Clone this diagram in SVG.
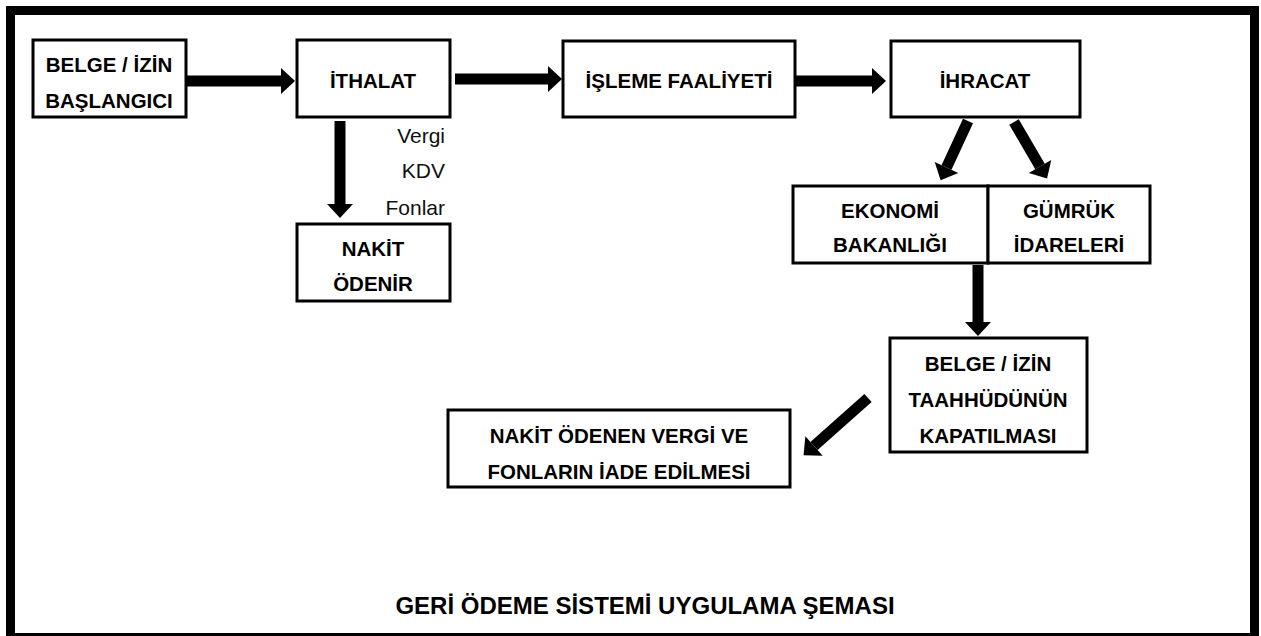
<svg xmlns="http://www.w3.org/2000/svg" width="1261" height="636" viewBox="0 0 1261 636">
<style>
.box{fill:#fff;stroke:#000;stroke-width:3}
.t{font-family:"Liberation Sans",Arial,sans-serif;font-weight:bold;font-size:20.5px;fill:#000;text-anchor:middle}
.n{font-family:"Liberation Sans",Arial,sans-serif;font-size:21px;fill:#111;text-anchor:end}
.c{stroke:#000;stroke-width:11;fill:none;marker-end:url(#ah)}
</style>
<defs>
<marker id="ah" markerUnits="userSpaceOnUse" markerWidth="16" markerHeight="28" refX="0" refY="13" orient="auto" overflow="visible">
<path d="M0,0 L14,13 L0,26 z" fill="#000"/>
</marker>
</defs>
<rect x="0" y="0" width="1261" height="636" fill="#fff"/>
<rect x="10.5" y="10.5" width="1244" height="627" fill="none" stroke="#000" stroke-width="9"/>

<g id="n-baslangic"><rect class="box" x="33" y="40" width="153" height="77"/><text class="t" x="109" y="72">BELGE / İZİN</text><text class="t" x="109" y="108">BAŞLANGICI</text></g>
<g id="n-ithalat"><rect class="box" x="297" y="40" width="153" height="77"/><text class="t" x="373" y="88">İTHALAT</text></g>
<g id="n-isleme"><rect class="box" x="563" y="41" width="232" height="76"/><text class="t" x="679" y="88">İŞLEME FAALİYETİ</text></g>
<g id="n-ihracat"><rect class="box" x="891" y="41" width="189" height="76"/><text class="t" x="985" y="88">İHRACAT</text></g>
<g id="n-vergi"><text class="n" x="445" y="143">Vergi</text><text class="n" x="445" y="178">KDV</text><text class="n" x="445" y="215">Fonlar</text></g>
<g id="n-nakit"><rect class="box" x="297" y="224" width="153" height="77"/><text class="t" x="373" y="256">NAKİT</text><text class="t" x="373" y="291">ÖDENİR</text></g>
<g id="n-ekonomi"><rect class="box" x="793" y="186" width="195" height="77"/><text class="t" x="890" y="218">EKONOMİ</text><text class="t" x="890" y="252">BAKANLIĞI</text></g>
<g id="n-gumruk"><rect class="box" x="988" y="186" width="162" height="77"/><text class="t" x="1069" y="218">GÜMRÜK</text><text class="t" x="1069" y="252">İDARELERİ</text></g>
<g id="n-kapatma"><rect class="box" x="890" y="338" width="197" height="114"/><text class="t" x="988" y="371">BELGE / İZİN</text><text class="t" x="988" y="407">TAAHHÜDÜNÜN</text><text class="t" x="988" y="443">KAPATILMASI</text></g>
<g id="n-iade"><rect class="box" x="448" y="410" width="342" height="77"/><text class="t" x="619" y="443">NAKİT ÖDENEN VERGİ VE</text><text class="t" x="619" y="479">FONLARIN İADE EDİLMESİ</text></g>
<g id="n-title"><text class="t" x="645" y="614" style="font-size:24px">GERİ ÖDEME SİSTEMİ UYGULAMA ŞEMASI</text></g>

<g id="connectors">
<line class="c" x1="187" y1="81" x2="281" y2="81"/>
<line class="c" x1="455" y1="79" x2="548" y2="79"/>
<line class="c" x1="796" y1="81" x2="872" y2="81"/>
<line class="c" x1="340" y1="121" x2="340" y2="204"/>
<line class="c" x1="968" y1="121" x2="946.5" y2="167.5"/>
<line class="c" x1="1014" y1="122" x2="1040" y2="166.5"/>
<line class="c" x1="978" y1="265" x2="978" y2="322"/>
<line class="c" x1="868" y1="398" x2="814" y2="446"/>
</g>
</svg>
